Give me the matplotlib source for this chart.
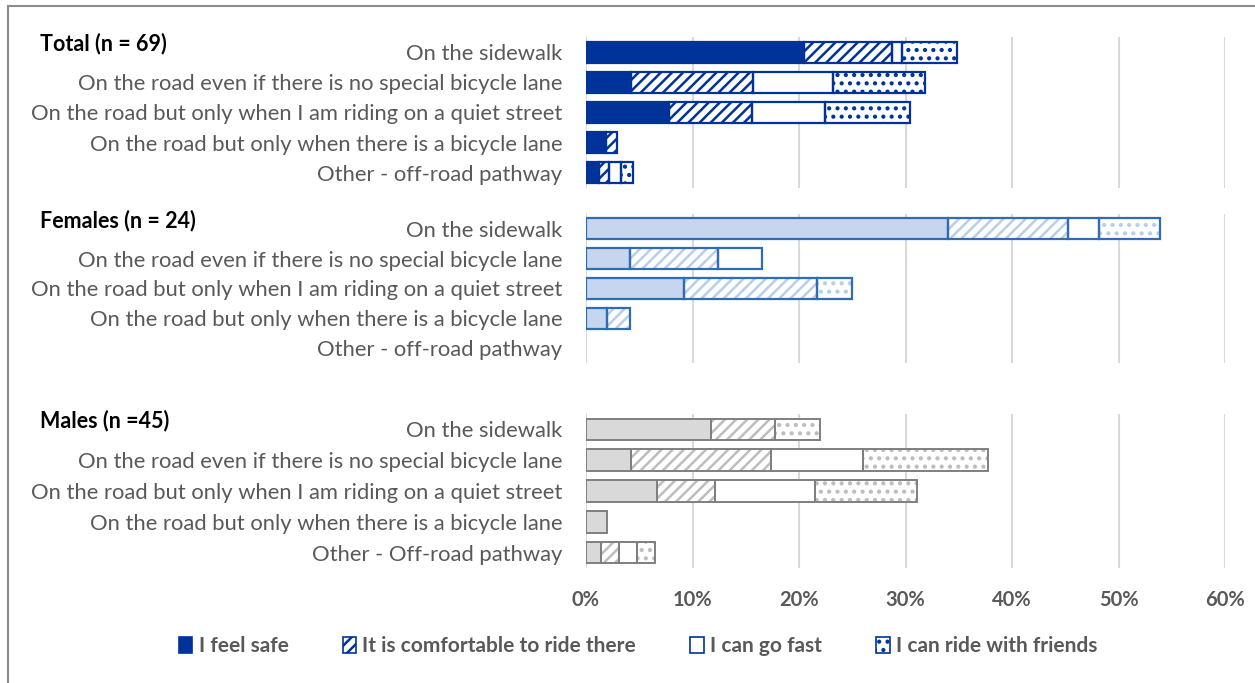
import matplotlib
matplotlib.use("Agg")
import matplotlib.pyplot as plt
from matplotlib.patches import Rectangle
from matplotlib.ticker import FuncFormatter

plt.rcParams["font.family"] = ["Lato", "DejaVu Sans"]
plt.rcParams["hatch.linewidth"] = 1.8

# ---- data (percent of respondents) ----
series = ["I feel safe", "It is comfortable to ride there", "I can go fast", "I can ride with friends"]

places_total = ["On the sidewalk",
                "On the road even if there is no special bicycle lane",
                "On the road but only when I am riding on a quiet street",
                "On the road but only when there is a bicycle lane",
                "Other - off-road pathway"]
places_females = list(places_total)
places_males = places_total[:4] + ["Other - Off-road pathway"]

total_safe = [20.5, 4.2, 7.8, 1.9, 1.2]
total_comfortable = [8.2, 11.5, 7.8, 1.0, 1.0]
total_fast = [1.0, 7.5, 6.8, 0.0, 1.1]
total_friends = [5.1, 8.6, 8.0, 0.0, 1.1]

females_safe = [34.0, 4.1, 9.2, 2.0, 0.0]
females_comfortable = [11.3, 8.3, 12.5, 2.1, 0.0]
females_fast = [2.9, 4.1, 0.0, 0.0, 0.0]
females_friends = [5.7, 0.0, 3.3, 0.0, 0.0]

males_safe = [11.7, 4.2, 6.7, 2.0, 1.4]
males_comfortable = [6.0, 13.2, 5.4, 0.0, 1.7]
males_fast = [0.0, 8.6, 9.4, 0.0, 1.7]
males_friends = [4.3, 11.7, 9.6, 0.0, 1.7]

x_ticks = [0, 10, 20, 30, 40, 50, 60]

# ---- styling per panel ----
panels = [
    dict(title="Total (n = 69)", labels=places_total,
         values=[total_safe, total_comfortable, total_fast, total_friends],
         fill="#003399", edge="#003399", pattern="#003399", lw=1.6,
         box=(37, 188)),
    dict(title="Females (n = 24)", labels=places_females,
         values=[females_safe, females_comfortable, females_fast, females_friends],
         fill="#C5D6EE", edge="#2E6DB5", pattern="#B9CEEA", lw=1.6,
         box=(214, 363)),
    dict(title="Males (n =45)", labels=places_males,
         values=[males_safe, males_comfortable, males_fast, males_friends],
         fill="#D9D9D9", edge="#7F7F7F", pattern="#BDBDBD", lw=1.4,
         box=(414, 568)),
]

W, H = 1255, 683
fig = plt.figure(figsize=(W / 100, H / 100), dpi=100)

# outer frame
fig.patches.append(Rectangle((8 / W, -0.05), 1.2, 1 - 6 / H + 0.05, transform=fig.transFigure,
                             fill=False, edgecolor="#8C8C8C", linewidth=1.5, zorder=0))

text_gray = "#595959"
bar_h = 0.7
x0_px, x1_px = 586, 1225

for i, p in enumerate(panels):
    top, bot = p["box"]
    ax = fig.add_axes([x0_px / W, 1 - bot / H, (x1_px - x0_px) / W, (bot - top) / H])
    ypos = list(range(len(p["labels"])))
    left = [0.0] * len(ypos)
    styles = [
        dict(color=p["fill"], hatch=None),
        dict(color="white", hatch="///"),
        dict(color="white", hatch=None),
        dict(color="white", hatch=".."),
    ]
    for vals, st in zip(p["values"], styles):
        for y, v, l in zip(ypos, vals, left):
            if v <= 0:
                continue
            ax.barh(y, v, left=l, height=bar_h, color=st["color"],
                    edgecolor=p["pattern"], hatch=st["hatch"], linewidth=0, zorder=2)
            ax.barh(y, v, left=l, height=bar_h, fill=False,
                    edgecolor=p["edge"], linewidth=p["lw"], zorder=3)
        left = [l + v for l, v in zip(left, vals)]

    ax.set_xlim(0, 60)
    ax.set_ylim(len(ypos) - 0.5, -0.5)
    ax.set_xticks(x_ticks)
    ax.xaxis.grid(True, color="#D9D9D9", linewidth=1.5, zorder=0)
    ax.set_axisbelow(True)
    for s in ax.spines.values():
        s.set_visible(False)
    ax.set_yticks(ypos)
    ax.set_yticklabels(p["labels"], fontsize=15.8, color=text_gray)
    ax.tick_params(axis="y", length=0, pad=17)
    ax.tick_params(axis="x", length=0)
    if i == len(panels) - 1:
        ax.xaxis.set_major_formatter(FuncFormatter(lambda v, _: f"{v:.0f}%"))
        for t in ax.get_xticklabels():
            t.set_fontsize(14.5)
            t.set_fontweight("bold")
            t.set_color(text_gray)
        ax.tick_params(axis="x", pad=16)
    else:
        ax.set_xticklabels([])
    fig.text(40 / W, 1 - (top + 7) / H, p["title"], fontsize=15.5, fontweight="bold",
             color="black", va="center", ha="left")

# legend with the Total panel's styles
tp = panels[0]
handles = [
    Rectangle((0, 0), 1, 1, facecolor=tp["fill"], edgecolor=tp["edge"], linewidth=1.2),
    Rectangle((0, 0), 1, 1, facecolor="white", edgecolor=tp["edge"], hatch="///", linewidth=1.2),
    Rectangle((0, 0), 1, 1, facecolor="white", edgecolor=tp["edge"], linewidth=1.2),
    Rectangle((0, 0), 1, 1, facecolor="white", edgecolor=tp["edge"], hatch="..", linewidth=1.2),
]
leg = fig.legend(handles, series, loc="center", bbox_to_anchor=(638 / W, 1 - 646 / H),
                 ncol=4, frameon=False, handlelength=0.65, handleheight=0.8,
                 handletextpad=0.3, columnspacing=2.6,
                 prop=dict(size=15, weight="bold"))
for t in leg.get_texts():
    t.set_color(text_gray)

fig.savefig("out.png", dpi=100, facecolor="white")
